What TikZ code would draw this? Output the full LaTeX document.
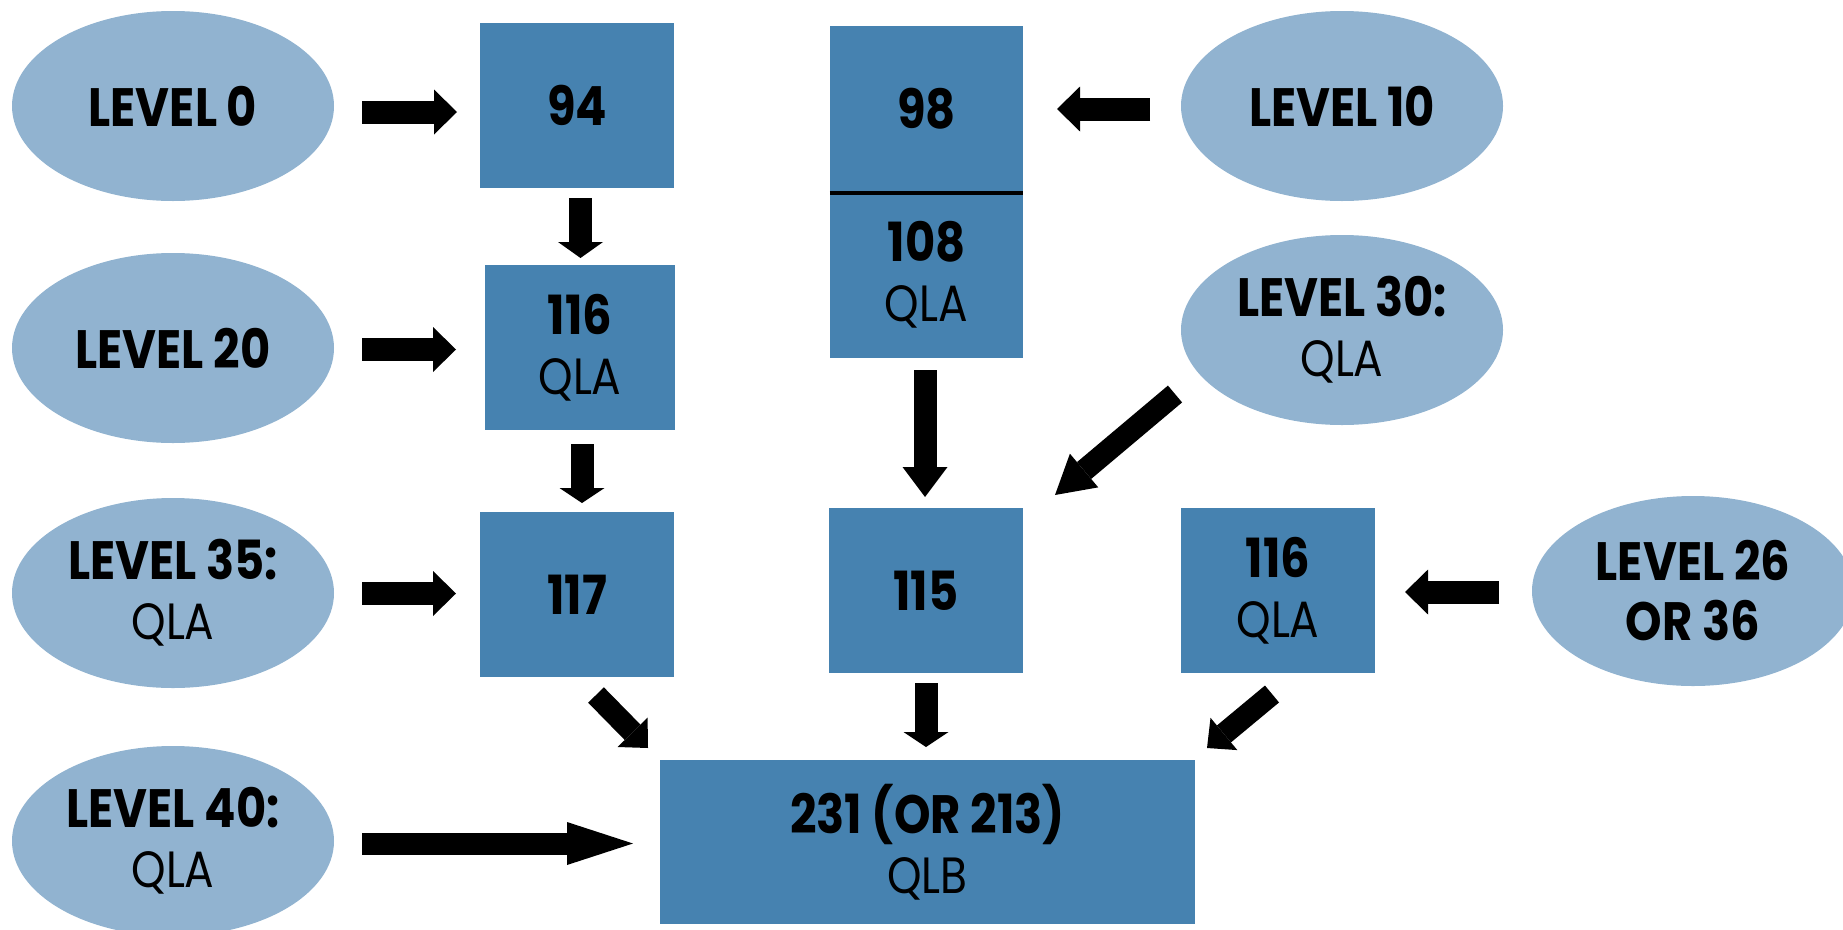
\documentclass[tikz,border=0pt]{standalone}
\usepackage{fontspec}
\setmainfont{Poppins}
\newfontfamily\hdfont{Poppins}[FakeStretch=0.86]
\newfontfamily\qfont{Poppins}[FakeStretch=0.86]
\usetikzlibrary{shapes.geometric,arrows.meta}
\definecolor{lightb}{HTML}{91B3D0}
\definecolor{darkb}{HTML}{4682B0}
\newcommand\qla[1]{{\qfont\mdseries\fontsize{51}{60}\selectfont #1}}
\begin{document}
\begin{tikzpicture}[x=1pt,y=-1pt,
  lvl/.style={ellipse, fill=lightb, minimum width=322pt, minimum height=190pt, inner sep=0pt, align=center,
    font=\hdfont\bfseries\fontsize{54}{60}\selectfont},
  blk/.style={rectangle, fill=darkb, inner sep=0pt, align=center,
    font=\hdfont\bfseries\fontsize{54}{60}\selectfont},
  barrow/.style={line width=23pt, -{Triangle[length=#1,width=45pt,line width=0pt]}},
  barrow/.default=23pt]
\useasboundingbox (0,0) rectangle (1843,929);
\clip (0,0) rectangle (1843,929);
% ellipses
\node[lvl] (e0)  at (173,106) {LEVEL 0};
\node[lvl] (e20) at (173,348) {LEVEL 20};
\node[lvl] (e35) at (173,593) {LEVEL 35:\\[0pt]\qla{QLA}};
\node[lvl] (e40) at (173,841) {LEVEL 40:\\[0pt]\qla{QLA}};
\node[lvl] (e10) at (1342,106) {LEVEL 10};
\node[lvl] (e30) at (1342,330) {LEVEL 30:\\[0pt]\qla{QLA}};
\node[lvl] (e26) at (1693,591) {LEVEL 26\\[0pt]OR 36};
% boxes
\node[blk, minimum width=194pt, minimum height=165pt] (b94)  at (577,105.5) {94};
\node[blk, minimum width=190pt, minimum height=165pt] (b116a) at (580,347.5) {116\\[0pt]\qla{QLA}};
\node[blk, minimum width=194pt, minimum height=165pt] (b117) at (577,594.5) {117};
\node[blk, minimum width=193pt, minimum height=165pt] (b98)  at (926.5,108.5) {98};
\node[blk, minimum width=193pt, minimum height=167pt] (b108) at (926.5,274.5) {108\\[0pt]\qla{QLA}};
\node[blk, minimum width=194pt, minimum height=165pt] (b115) at (926,590.5) {115};
\node[blk, minimum width=194pt, minimum height=165pt] (b116b) at (1278,590.5) {116\\[0pt]\qla{QLA}};
\node[blk, minimum width=535pt, minimum height=164pt] (b231) at (927.5,842) {231 (OR 213)\\[0pt]\qla{QLB}};
\draw[line width=4pt] ([yshift=-1.5pt]b98.south west) -- ([yshift=-1.5pt]b98.south east);
% arrows
\draw[barrow] ([shift={(189,6)}]e0.center) -- ([shift={(-120,6.5)}]b94.center);
\draw[barrow] ([shift={(189,1.5)}]e20.center) -- ([shift={(-124,2)}]b116a.center);
\draw[barrow] ([shift={(189,0.5)}]e35.center) -- ([shift={(-121,-1)}]b117.center);
\draw[line width=22pt, -{Triangle[length=66pt,width=43pt,line width=0pt]}] ([shift={(189,2.5)}]e40.center) -- ([shift={(-294.5,1.5)}]b231.center);
\draw[barrow] ([shift={(-192,3)}]e10.center) -- ([shift={(130.5,0.5)}]b98.center);
\draw[barrow] ([shift={(-194,1)}]e26.center) -- ([shift={(127,1.5)}]b116b.center);
\draw[barrow=16pt] ([shift={(3.5,92.5)}]b94.center) -- ([shift={(0.5,-89.5)}]b116a.center);
\draw[barrow=15pt] ([shift={(2,96.5)}]b116a.center) -- ([shift={(5,-91.5)}]b117.center);
\draw[barrow=30pt] ([shift={(-1.5,95.5)}]b108.center) -- ([shift={(-1,-93.5)}]b115.center);
\draw[line width=22pt, -{Triangle[length=38pt,width=44pt,line width=0pt]}] ([shift={(-167,64)}]e30.center) -- ([shift={(129,-95.5)}]b115.center);
\draw[line width=22pt, -{Triangle[length=22pt,width=42pt,line width=0pt]}] ([shift={(19,100.5)}]b117.center) -- ([shift={(-279.5,-94)}]b231.center);
\draw[barrow=15pt] ([shift={(0,92.5)}]b115.center) -- ([shift={(-1.5,-95)}]b231.center);
\draw[line width=22pt, -{Triangle[length=22pt,width=42pt,line width=0pt]}] ([shift={(-6,103.5)}]b116b.center) -- ([shift={(279.5,-94)}]b231.center);
\end{tikzpicture}
\end{document}
